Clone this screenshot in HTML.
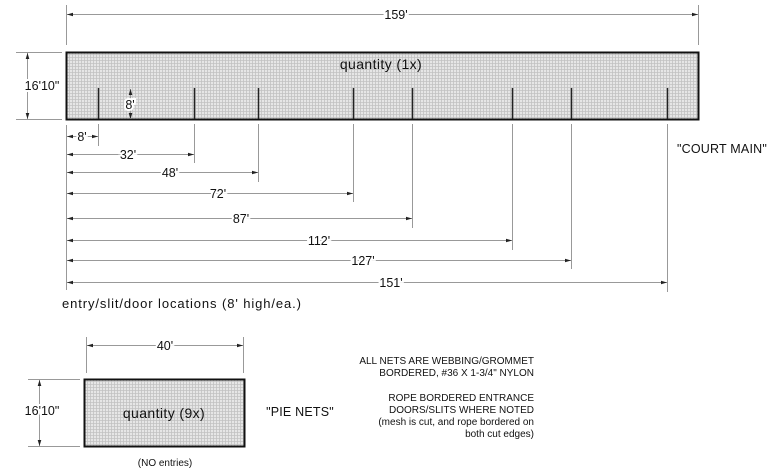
<!DOCTYPE html>
<html><head><meta charset="utf-8"><style>
html,body{margin:0;padding:0;background:#fff;}
svg{display:block;font-family:"Liberation Sans",sans-serif;}
</style></head><body>
<svg width="768" height="473" viewBox="0 0 768 473" xmlns="http://www.w3.org/2000/svg">
<defs>
<pattern id="mesh" width="3" height="3" patternUnits="userSpaceOnUse">
<rect width="3" height="3" fill="#e6e6e6"/>
<path d="M0 0.5H3M0.5 0V3" stroke="#c2c2c2" stroke-width="0.8"/>
</pattern>
<marker id="a" viewBox="0 0 10 10" refX="10" refY="5" markerWidth="6" markerHeight="6" orient="auto-start-reverse"><path d="M0 2L10 5L0 8z" fill="#222"/></marker>
</defs>
<g stroke="#999" stroke-width="1" fill="none">
<line x1="66.5" y1="5" x2="66.5" y2="45"/><line x1="698.5" y1="5" x2="698.5" y2="45"/>
<line x1="16" y1="52.5" x2="62" y2="52.5"/><line x1="16" y1="119.5" x2="62" y2="119.5"/>
<line x1="66.5" y1="125" x2="66.5" y2="290"/>
<line x1="98.5" y1="124" x2="98.5" y2="146"/>
<line x1="194.5" y1="124" x2="194.5" y2="163"/>
<line x1="258.5" y1="124" x2="258.5" y2="182"/>
<line x1="353.5" y1="124" x2="353.5" y2="202"/>
<line x1="412.5" y1="124" x2="412.5" y2="228"/>
<line x1="512.5" y1="124" x2="512.5" y2="250"/>
<line x1="571.5" y1="124" x2="571.5" y2="269"/>
<line x1="667.5" y1="124" x2="667.5" y2="292"/>
<line x1="104" y1="88.5" x2="139" y2="88.5"/>
<line x1="86.5" y1="337" x2="86.5" y2="373"/><line x1="243.5" y1="337" x2="243.5" y2="373"/>
<line x1="28" y1="379.5" x2="80" y2="379.5"/><line x1="28" y1="446.5" x2="80" y2="446.5"/>
</g>
<rect x="66.5" y="52.5" width="632" height="67" fill="url(#mesh)" stroke="#111" stroke-width="2"/>
<rect x="84.5" y="379.5" width="160" height="67" fill="url(#mesh)" stroke="#111" stroke-width="2"/>
<g stroke="#222" stroke-width="1.5">
<line x1="98.5" y1="88" x2="98.5" y2="119"/><line x1="194.5" y1="88" x2="194.5" y2="119"/>
<line x1="258.5" y1="88" x2="258.5" y2="119"/><line x1="353.5" y1="88" x2="353.5" y2="119"/>
<line x1="412.5" y1="88" x2="412.5" y2="119"/><line x1="512.5" y1="88" x2="512.5" y2="119"/>
<line x1="571.5" y1="88" x2="571.5" y2="119"/><line x1="667.5" y1="88" x2="667.5" y2="119"/>
</g>
<g stroke="#999" stroke-width="1" marker-start="url(#a)" marker-end="url(#a)">
<line x1="67" y1="14.5" x2="698" y2="14.5"/>
<line x1="27.5" y1="53" x2="27.5" y2="119"/>
<line x1="130.5" y1="89" x2="130.5" y2="119"/>
<line x1="67" y1="136.5" x2="98" y2="136.5"/>
<line x1="67" y1="154.5" x2="194" y2="154.5"/>
<line x1="67" y1="172.5" x2="258" y2="172.5"/>
<line x1="67" y1="193.5" x2="353" y2="193.5"/>
<line x1="67" y1="218.5" x2="412" y2="218.5"/>
<line x1="67" y1="240.5" x2="512" y2="240.5"/>
<line x1="67" y1="260.5" x2="571" y2="260.5"/>
<line x1="67" y1="282.5" x2="667" y2="282.5"/>
<line x1="87" y1="345.5" x2="243" y2="345.5"/>
<line x1="39.5" y1="380" x2="39.5" y2="446"/>
</g>
<g font-size="12.5" fill="#111" text-anchor="middle">
<g stroke="#fff" stroke-width="4" paint-order="stroke">
<text x="396" y="19">159'</text>
<text x="82" y="141">8'</text>
<text x="128" y="159">32'</text>
<text x="170" y="177">48'</text>
<text x="218" y="198">72'</text>
<text x="241" y="223">87'</text>
<text x="319" y="245">112'</text>
<text x="363" y="265">127'</text>
<text x="391" y="287">151'</text>
<text x="165" y="350">40'</text>
<text x="42" y="90">16'10"</text>
<text x="42" y="415">16'10"</text>
<text x="130" y="109">8'</text>
</g>
<text x="381" y="69" font-size="14" letter-spacing="0.4">quantity (1x)</text>
<text x="164" y="418" font-size="14" letter-spacing="0.4">quantity (9x)</text>
<text x="722" y="153" letter-spacing="0.2">"COURT MAIN"</text>
<text x="300" y="416" letter-spacing="0.2">"PIE NETS"</text>
<text x="165" y="466" font-size="10">(NO entries)</text>
</g>
<text x="62" y="308" font-size="13" letter-spacing="0.9" fill="#111">entry/slit/door locations (8' high/ea.)</text>
<g font-size="10" fill="#111" text-anchor="end">
<text x="534" y="364">ALL NETS ARE WEBBING/GROMMET</text>
<text x="534" y="376">BORDERED, #36 X 1-3/4" NYLON</text>
<text x="534" y="401">ROPE BORDERED ENTRANCE</text>
<text x="534" y="413">DOORS/SLITS WHERE NOTED</text>
<text x="534" y="425">(mesh is cut, and rope bordered on</text>
<text x="534" y="437">both cut edges)</text>
</g>
</svg>
</body></html>
